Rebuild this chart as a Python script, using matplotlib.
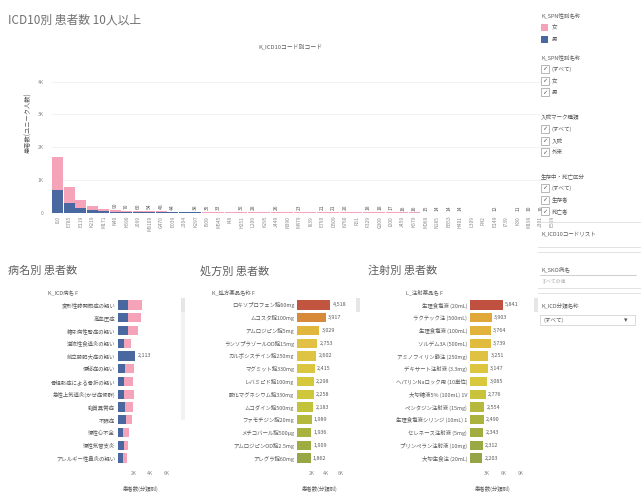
import matplotlib
matplotlib.use("Agg")
import matplotlib.pyplot as plt
from matplotlib.patches import Rectangle
import numpy as np

plt.rcParams['font.family'] = ['Noto Sans CJK JP', 'DejaVu Sans']

W, H = 642, 497
fig = plt.figure(figsize=(W / 100, H / 100), dpi=100)
fig.patch.set_facecolor('white')

TXT = '#5a5a5a'
LIGHT = '#8a8a8a'
PINK = '#f4a3b8'
BLUE = '#4a68a0'


def add_ax(x0, y0, x1, y1):
    return fig.add_axes([x0 / W, 1 - y1 / H, (x1 - x0) / W, (y1 - y0) / H])


def ftext(x, y, s, **kw):
    kw.setdefault('color', TXT)
    kw.setdefault('va', 'center')
    fig.text(x / W, 1 - y / H, s, **kw)


# ---------------- data ----------------
icd_codes = ['I10', 'E785', 'E119', 'K219', 'M171', 'N40', 'K590', 'J069',
             'M8109', 'G470', 'E039', 'J304', 'K297', 'I509', 'M545', 'I48',
             'H251', 'L209', 'K295', 'J449', 'N390', 'M479', 'I639', 'E790',
             'D509', 'K760', 'R51', 'F329', 'G309', 'I200', 'J459', 'K579',
             'M069', 'N185', 'B353', 'H401', 'L309', 'R42', 'E149', 'I739',
             'K30', 'M199', 'J301', 'E559']
icd_male = [700, 300, 150, 90, 55, 38, 28, 24, 22, 20, 18, 17, 16, 15, 14, 13,
            13, 12, 12, 11, 11, 10, 10, 9, 9, 9, 8, 8, 8, 7, 7, 7, 6, 6, 6, 6,
            5, 5, 5, 5, 5, 4, 4, 4]
icd_female = [1000, 500, 250, 130, 75, 52, 42, 36, 32, 28, 26, 24, 22, 20, 19,
              18, 17, 16, 15, 15, 14, 13, 13, 12, 12, 11, 11, 10, 10, 10, 9, 9,
              9, 8, 8, 8, 7, 7, 7, 6, 6, 6, 6, 6]
icd_labelled = [5, 6, 7, 8, 9, 10, 12, 13, 14, 16, 17, 19, 21, 23, 24, 25, 27,
                28, 29, 30, 31, 32, 33, 34, 35, 38, 40, 41, 42]

disease_names = ['変形性膝関節症の疑い', '高血圧症', '糖尿病性腎症の疑い',
                 '逆流性食道炎の疑い', '前立腺肥大症の疑い', '便秘症の疑い',
                 '骨粗鬆症による骨折の疑い', '急性上気道炎(かぜ症候群)',
                 '脂質異常症', '不眠症', '慢性心不全', '慢性気管支炎',
                 'アレルギー性鼻炎の疑い']
disease_male = [1250, 1300, 1200, 800, 2113, 900, 700, 750, 850, 1000, 650, 700, 600]
disease_female = [1750, 1500, 1300, 850, 0, 1100, 1200, 1250, 1050, 700, 700, 500, 500]

drug_names = ['ロキソプロフェン錠60mg', 'ムコスタ錠100mg', 'アムロジピン錠5mg',
              'ランソプラゾールOD錠15mg', 'カルボシステイン錠250mg',
              'マグミット錠330mg', 'レバミピド錠100mg', '酸化マグネシウム錠330mg',
              'ムコダイン錠500mg', 'ファモチジン錠20mg', 'メチコバール錠500μg',
              'アムロジピンOD錠2.5mg', 'アレグラ錠60mg']
drug_counts = [4518, 3917, 3029, 2753, 2602, 2415, 2298, 2258, 2183, 1989,
               1936, 1909, 1862]

inj_names = ['生理食塩液 (20mL)', 'ラクテック注 (500mL)', '生理食塩液 (100mL)',
             'ソルデム3A (500mL)', 'アミノフィリン静注 (250mg)',
             'デキサート注射液 (3.3mg)', 'ヘパリンNaロック用 (10単位)',
             '大塚糖液5% (100mL) 1V', 'ペンタジン注射液 (15mg)',
             '生理食塩液シリンジ (10mL) 1', 'セレネース注射液 (5mg)',
             'プリンペラン注射液 (10mg)', '大塚生食注 (20mL)']
inj_counts = [5841, 3903, 3764, 3739, 3251, 3147, 3085, 2776, 2554, 2490,
              2343, 2312, 2203]

# ---------------- header ----------------
ftext(8, 20, 'ICD10別 患者数 10人以上', fontsize=8.5, color='#707070')
ftext(290, 47, 'K_ICD10コード別コード', fontsize=4.2, ha='center', color=TXT)

# ---------------- top chart ----------------
ax = add_ax(52, 75, 558, 213)
x = np.arange(len(icd_codes))
ax.bar(x, icd_male, width=0.92, color=BLUE, linewidth=0)
ax.bar(x, icd_female, width=0.92, bottom=icd_male, color=PINK, linewidth=0)
ax.set_xlim(-0.5, len(icd_codes) - 0.5)
ax.set_ylim(0, 4200)
ax.set_yticks([0, 1000, 2000, 3000, 4000])
ax.set_yticklabels(['0', '1K', '2K', '3K', '4K'], fontsize=3.6, color=LIGHT)
ax.set_xticks(x)
ax.set_xticklabels(icd_codes, rotation=90, fontsize=3.6, color=LIGHT)
ax.tick_params(axis='both', length=0, pad=2)
ax.tick_params(axis='y', pad=6)
ax.grid(axis='y', color='#f0f0f0', linewidth=0.6)
ax.set_axisbelow(True)
for s in ax.spines.values():
    s.set_visible(False)
ax.axhline(0, color='#f3c7d2', linewidth=0.6)
for i in icd_labelled:
    tot = icd_male[i] + icd_female[i]
    ax.text(i, tot + 60, str(tot), rotation=90, fontsize=3.6, color=TXT,
            ha='center', va='bottom')
ftext(28, 123, '患者数(ユニーク人数)', fontsize=4.5, rotation=90, ha='center')


# ---------------- bottom panels ----------------
def hbar_panel(x_axis0, x_axis1, xmax, names, header, hx, title, tx, xlabel,
               ticks, ticklabels, values=None, colors=None, male=None,
               female=None, labels=None):
    axp = add_ax(x_axis0, 298.6, x_axis1, 464.4)
    n = len(names)
    y = np.arange(n)
    if male is not None:
        axp.barh(y, male, height=0.72, color=BLUE, linewidth=0)
        axp.barh(y, female, height=0.72, left=male, color=PINK, linewidth=0)
    else:
        axp.barh(y, values, height=0.72, color=colors, linewidth=0)
    axp.set_xlim(0, xmax)
    axp.set_ylim(n - 0.5, -0.5)
    axp.set_yticks(y)
    axp.set_yticklabels(names, fontsize=3.9, color=TXT)
    axp.set_xticks(ticks)
    axp.set_xticklabels(ticklabels, fontsize=3.6, color=LIGHT)
    axp.tick_params(axis='both', length=0, pad=2)
    axp.tick_params(axis='x', pad=5)
    for s in axp.spines.values():
        s.set_visible(False)
    if labels is not None:
        for i, (v, t) in enumerate(labels):
            if t:
                axp.text(v + xmax * 0.04, i, t, fontsize=3.9, color=TXT,
                         va='center', ha='left')
    ftext(hx, 292, header, fontsize=3.9, ha='center')
    ftext(tx, 271, title, fontsize=8.0, color='#606060')
    ftext((x_axis0 + x_axis1) / 2 - 6, 489, xlabel, fontsize=3.9, ha='center')
    return axp


# panel 1: disease (stacked by sex)
d_tot = [m + f for m, f in zip(disease_male, disease_female)]
d_labels = [(t, '2,113' if i == 4 else '') for i, t in enumerate(d_tot)]
hbar_panel(118, 176, 7200, disease_names, 'K_ICD病名 F', 63, '病名別 患者数', 8,
           '患者数(分類別)', [2000, 4000, 6000], ['2K', '4K', '6K'],
           male=disease_male, female=disease_female, labels=d_labels)

# panel 2: prescriptions
drug_colors = ['#c2553f', '#d88a3b', '#e0b63d', '#e2c046', '#dfc444', '#dbc63f',
               '#d6c83c', '#cfc73b', '#c2c23b', '#b4b93d', '#a8b23f', '#9fac42',
               '#98a745']
hbar_panel(297, 355, 7900, drug_names, 'K_処方薬品名称 F', 233, '処方別 患者数',
           200, '患者数(分類別)', [2000, 4000, 6000], ['2K', '4K', '6K'],
           values=drug_counts, colors=drug_colors,
           labels=[(v, f'{v:,}') for v in drug_counts])

# panel 3: injections
inj_colors = ['#c0503f', '#e0a83a', '#e1b33c', '#e1bb3e', '#dfc241', '#ddc540',
              '#d9c83e', '#c9c33c', '#b6b93d', '#abb33e', '#a1ad41', '#9aa943',
              '#95a545']
hbar_panel(470, 527, 10200, inj_names, 'L_注射薬品名 F', 424, '注射別 患者数',
           368, '患者数(分類別)', [3000, 6000, 9000], ['3K', '6K', '9K'],
           values=inj_counts, colors=inj_colors,
           labels=[(v, f'{v:,}') for v in inj_counts])

# scroll markers between panels
for xs in (181, 356, 534):
    fig.patches.append(Rectangle((xs / W, 1 - 312 / H), 4 / W, 14 / H,
                                 transform=fig.transFigure, color='#e6e6e6',
                                 linewidth=0))
fig.patches.append(Rectangle((181 / W, 1 - 420 / H), 4 / W, 108 / H,
                             transform=fig.transFigure, color='#f2f2f2',
                             linewidth=0))

# ---------------- right side: legend and filters ----------------
ftext(541, 15, 'K_SPN性別名称', fontsize=4.0)
for yy, col, lab in ((27, PINK, '女'), (39, BLUE, '男')):
    fig.patches.append(Rectangle((541 / W, 1 - (yy + 3.5) / H), 7 / W, 7 / H,
                                 transform=fig.transFigure, color=col,
                                 linewidth=0))
    ftext(552, yy, lab, fontsize=4.0)


def filter_block(title, ty, items):
    ftext(541, ty, title, fontsize=4.0)
    for k, item in enumerate(items):
        yy = ty + 12 + 11.7 * k
        fig.patches.append(Rectangle((541 / W, 1 - (yy + 4) / H), 8 / W, 8 / H,
                                     transform=fig.transFigure,
                                     facecolor='white', edgecolor='#9a9a9a',
                                     linewidth=0.5))
        ftext(545, yy, '✓', fontsize=4.5, ha='center', family='DejaVu Sans',
              color='#555555')
        ftext(552, yy, item, fontsize=4.0)


filter_block('K_SPN性別名称', 57, ['(すべて)', '女', '男'])
filter_block('入院マーク種類', 117, ['(すべて)', '入院', '外来'])
filter_block('生存中・死亡区分', 176, ['(すべて)', '生存者', '死亡者'])

# parameter / list boxes
for yl in (222, 247, 252, 288, 293):
    fig.add_artist(plt.Line2D([538 / W, 640 / W], [1 - yl / H, 1 - yl / H],
                              color='#dddddd', linewidth=0.6))
ftext(541, 234, 'K_ICD10コードリスト', fontsize=4.0)
ftext(541, 269, 'K_SKO病名', fontsize=4.0)
fig.add_artist(plt.Line2D([540 / W, 636 / W], [1 - 275 / H, 1 - 275 / H],
                          color='#bbbbbb', linewidth=0.5))
ftext(541, 281, 'すべての値', fontsize=3.5, color='#b0b0b0')
ftext(541, 305, 'K_ICD分類名称', fontsize=4.0)
fig.patches.append(Rectangle((540 / W, 1 - 325 / H), 95 / W, 10 / H,
                             transform=fig.transFigure, facecolor='white',
                             edgecolor='#cccccc', linewidth=0.5))
ftext(543, 320, '(すべて)', fontsize=4.0)
ftext(626, 320, '▾', fontsize=5, family='DejaVu Sans', ha='center')

fig.savefig('out.png', dpi=100, facecolor='white')
